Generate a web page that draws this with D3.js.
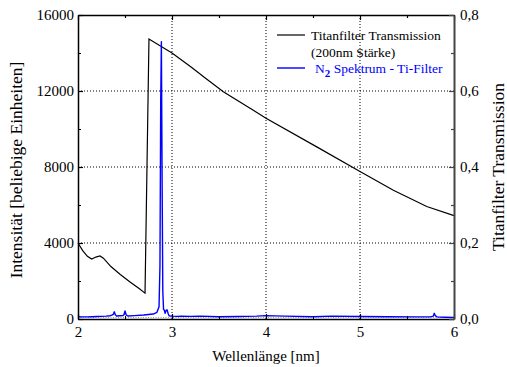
<!DOCTYPE html>
<html><head><meta charset="utf-8">
<script src="https://cdn.jsdelivr.net/npm/d3@7"></script>
<style>
body{margin:0;background:#fff}
text{font-family:"Liberation Serif","Times New Roman",serif}
</style>
</head><body>
<svg id="c" width="507" height="367"></svg>
<script>
// Titanfilter transmission (right axis)
const transWl  = [2.0, 2.05, 2.1, 2.146, 2.19, 2.234, 2.27, 2.35, 2.45, 2.55, 2.65, 2.713, 2.755, 3.0, 3.21, 3.35, 3.546, 3.848, 4.0, 4.54, 5.0, 5.355, 5.71, 6.0];
const transVal = [0.200, 0.180, 0.165, 0.158, 0.163, 0.166, 0.160, 0.138, 0.117, 0.098, 0.080, 0.068, 0.737, 0.700, 0.662, 0.635, 0.598, 0.552, 0.528, 0.453, 0.388, 0.339, 0.296, 0.272];

// N2 spectrum with Ti filter (left axis)
const specWl  = [2.0, 2.05, 2.1, 2.15, 2.2, 2.25, 2.3, 2.34, 2.36, 2.375, 2.386, 2.397, 2.41, 2.45, 2.48, 2.49, 2.5, 2.512, 2.53, 2.6, 2.7, 2.8, 2.84, 2.862, 2.872, 2.88, 2.887, 2.894, 2.902, 2.91, 2.918, 2.927, 2.938, 2.948, 2.958, 2.967, 2.98, 3.0, 3.05, 3.1, 3.2, 3.3, 3.5, 3.7, 3.9, 4.0, 4.2, 4.5, 4.7, 5.0, 5.3, 5.6, 5.75, 5.78, 5.79, 5.8, 5.82, 5.85, 5.9, 6.0];
const specVal = [120, 110, 110, 120, 130, 140, 150, 170, 200, 240, 380, 220, 160, 170, 180, 240, 420, 220, 160, 180, 210, 260, 350, 650, 2800, 11500, 14600, 8000, 1500, 500, 470, 300, 460, 480, 300, 180, 160, 150, 140, 150, 140, 150, 120, 130, 150, 180, 150, 120, 150, 130, 120, 110, 110, 150, 300, 180, 110, 100, 90, 80];

const xTicks = [2, 3, 4, 5, 6];
const xMinor = [2.5, 3.5, 4.5, 5.5];
const yTicks = [0, 4000, 8000, 12000, 16000];
const yMinor = [2000, 6000, 10000, 14000];
const y2Ticks = [0, 0.2, 0.4, 0.6, 0.8];
const y2Minor = [0.1, 0.3, 0.5, 0.7];
const y2Labels = ["0,0", "0,2", "0,4", "0,6", "0,8"];

const svg = d3.select("#c");
const L = 78, R = 454, T = 15, B = 319;

const x = d3.scaleLinear().domain([2, 6]).range([L, R]);
const y = d3.scaleLinear().domain([0, 16000]).range([B, T]);
const y2 = d3.scaleLinear().domain([0, 0.8]).range([B, T]);

// grid
const grid = svg.append("g").attr("stroke", "#000").attr("stroke-width", 1).attr("stroke-dasharray", "1,2");
grid.selectAll("line.gx").data([3, 4, 5]).join("line")
  .attr("x1", d => x(d)).attr("x2", d => x(d)).attr("y1", T).attr("y2", B);
grid.selectAll("line.gy").data([4000, 8000, 12000]).join("line")
  .attr("x1", L).attr("x2", R).attr("y1", d => y(d)).attr("y2", d => y(d));
svg.append("line").attr("x1", L).attr("x2", R).attr("y1", B - 1.5).attr("y2", B - 1.5)
  .attr("stroke", "#999").attr("stroke-dasharray", "1,1.5");

// data lines
svg.append("path").datum(transWl.map((w, i) => [w, transVal[i]]))
  .attr("fill", "none").attr("stroke", "#000").attr("stroke-width", 1.2)
  .attr("d", d3.line().x(d => x(d[0])).y(d => y2(d[1])));
svg.append("path").datum(specWl.map((w, i) => [w, specVal[i]]))
  .attr("fill", "none").attr("stroke", "#0000ff").attr("stroke-width", 1.4)
  .attr("stroke-linejoin", "round")
  .attr("d", d3.line().x(d => x(d[0])).y(d => y(d[1])));

function styleAxis(g, col, w) {
  g.select(".domain").attr("stroke", col).attr("stroke-width", w);
  g.selectAll(".tick line").attr("stroke", col).attr("stroke-width", 1.2);
  g.selectAll("text").attr("font-family", "Liberation Serif").attr("font-size", 15).attr("fill", "#000");
}

// bottom
const gb = svg.append("g").attr("transform", `translate(0,${B})`)
  .call(d3.axisBottom(x).tickValues(xTicks).tickFormat(d3.format("d")).tickSizeInner(-5).tickSizeOuter(0).tickPadding(7));
styleAxis(gb, "#000", 1.5);
svg.append("g").attr("transform", `translate(0,${B})`)
  .call(d3.axisBottom(x).tickValues(xMinor).tickFormat("").tickSizeInner(-3).tickSizeOuter(0))
  .call(g => { g.select(".domain").remove(); g.selectAll("line").attr("stroke", "#000"); });
// top
const gt = svg.append("g").attr("transform", `translate(0,${T})`)
  .call(d3.axisTop(x).tickValues(xTicks.concat(xMinor)).tickFormat("").tickSize(0).tickSizeOuter(0));
styleAxis(gt, "#000", 1.5);
gt.selectAll(".tick line").attr("y2", d => xMinor.includes(d) ? 3 : 5);

// left
const gl = svg.append("g").attr("transform", `translate(${L},0)`)
  .call(d3.axisLeft(y).tickValues(yTicks).tickFormat(d3.format("d")).tickSizeInner(-5).tickSizeOuter(0).tickPadding(4));
styleAxis(gl, "#000", 1.5);
svg.append("g").attr("transform", `translate(${L},0)`)
  .call(d3.axisLeft(y).tickValues(yMinor).tickFormat("").tickSizeInner(-3).tickSizeOuter(0))
  .call(g => { g.select(".domain").remove(); g.selectAll("line").attr("stroke", "#000"); });

// right
const gr = svg.append("g").attr("transform", `translate(${R},0)`)
  .call(d3.axisRight(y2).tickValues(y2Ticks).tickFormat((d, i) => y2Labels[i]).tickSizeInner(-5).tickSizeOuter(0).tickPadding(6));
styleAxis(gr, "#444", 2);
svg.append("g").attr("transform", `translate(${R},0)`)
  .call(d3.axisRight(y2).tickValues(y2Minor).tickFormat("").tickSizeInner(-3).tickSizeOuter(0))
  .call(g => { g.select(".domain").remove(); g.selectAll("line").attr("stroke", "#444").attr("stroke-width", 1.2); });

// titles
svg.append("text").attr("x", (L + R) / 2).attr("y", 361).attr("text-anchor", "middle")
  .attr("font-size", 15).text("Wellenlänge [nm]");
svg.append("text").attr("transform", `translate(22,${(T + B) / 2 + 3}) rotate(-90)`)
  .attr("text-anchor", "middle").attr("font-size", 17.5).text("Intensität [beliebige Einheiten]");
svg.append("text").attr("transform", `translate(504,${(T + B) / 2}) rotate(-90)`)
  .attr("text-anchor", "middle").attr("font-size", 17.5).text("Titanfilter Transmission");

// legend
const lg = svg.append("g");
lg.append("line").attr("x1", 277).attr("x2", 305).attr("y1", 35).attr("y2", 35).attr("stroke", "#000").attr("stroke-width", 1.2);
lg.append("text").attr("x", 311).attr("y", 40).attr("font-size", 13.5).text("Titanfilter Transmission");
lg.append("text").attr("x", 311).attr("y", 57).attr("font-size", 13.5).text("(200nm Stärke)");
lg.append("line").attr("x1", 277).attr("x2", 305).attr("y1", 68).attr("y2", 68).attr("stroke", "#0000ff").attr("stroke-width", 1.4);
const nt = lg.append("text").attr("x", 315).attr("y", 73).attr("font-size", 13.5).attr("fill", "#0000ff");
nt.append("tspan").text("N");
nt.append("tspan").attr("dy", 4).attr("font-size", 11).attr("font-weight", "bold").text("2");
nt.append("tspan").attr("dy", -4).text(" Spektrum - Ti-Filter");
</script>
</body></html>
